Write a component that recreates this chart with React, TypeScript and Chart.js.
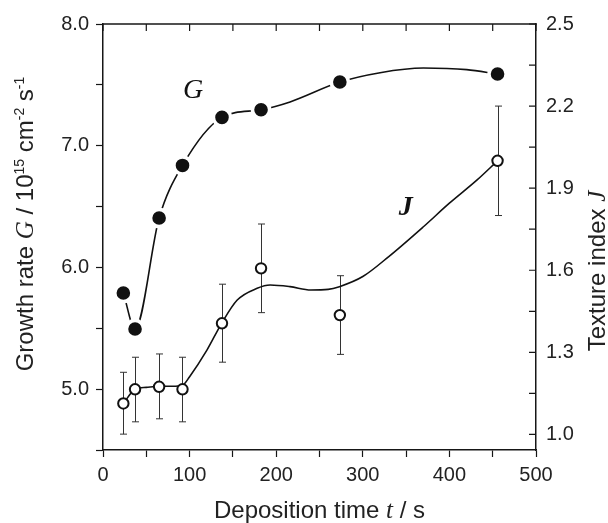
import React, { useEffect, useRef } from 'react';
import { Chart, registerables } from 'chart.js';

Chart.register(...registerables);

// ---- data ----
const TIME = [23.5, 37, 64.8, 91.8, 137.4, 182.5, 273.5, 455.6];
const G_RATE = [5.79, 5.494, 6.406, 6.838, 7.233, 7.296, 7.523, 7.589];
const J_INDEX = [1.113, 1.165, 1.174, 1.165, 1.406, 1.607, 1.436, 2.0];
const J_ERR_HIGH = [1.227, 1.282, 1.294, 1.282, 1.549, 1.769, 1.58, 2.2];
const J_ERR_LOW = [1.001, 1.046, 1.057, 1.046, 1.264, 1.445, 1.2925, 1.8];

// fitted guide curves (sampled along the drawn lines)
const G_FIT_T = [23.5, 37, 64.8, 91.8, 137.4, 182.5, 216, 273.5, 320, 370, 420, 455.6];
const G_FIT_V = [5.79, 5.494, 6.406, 6.838, 7.233, 7.296, 7.36, 7.523, 7.6, 7.638, 7.625, 7.589];
const J_FIT_T = [23.5, 37, 50, 65, 80, 92, 100, 120, 137, 155, 178, 193, 216, 240, 260, 273, 300, 330, 370, 400, 432, 455.6];
const J_FIT_V = [1.113, 1.165, 1.172, 1.176, 1.176, 1.18, 1.211, 1.308, 1.406, 1.491, 1.534, 1.546, 1.54, 1.528, 1.53, 1.54, 1.577, 1.65, 1.759, 1.845, 1.93, 2.0];

// axes
const X_TICKS = [0, 50, 100, 150, 200, 250, 300, 350, 400, 450, 500];
const X_LABELS = [0, 100, 200, 300, 400, 500];
const G_TICKS = [4.5, 5.0, 5.5, 6.0, 6.5, 7.0, 7.5, 8.0];
const G_LABELS = [5.0, 6.0, 7.0, 8.0];
const J_TICKS = [1.0, 1.15, 1.3, 1.45, 1.6, 1.75, 1.9, 2.05, 2.2, 2.35, 2.5];
const J_LABELS = [1.0, 1.3, 1.6, 1.9, 2.2, 2.5];

// in-plot labels (data coordinates)
const G_LABEL_POS = { x: 104, y: 7.45 };
const J_LABEL_POS = { x: 349.5, y: 1.828 };

const INK = '#161616';
const SANS = "'Liberation Sans', Arial, sans-serif";
const SERIF = "'Liberation Serif', 'Times New Roman', serif";

const has = (arr: number[], v: number) => arr.some((a) => Math.abs(a - v) < 1e-6);

type Seg = { t: string; font: string; dy?: number };

function drawRich(ctx: CanvasRenderingContext2D, segs: Seg[], cx: number, cy: number, rot: number) {
  ctx.save();
  ctx.translate(cx, cy);
  ctx.rotate(rot);
  ctx.textBaseline = 'alphabetic';
  ctx.textAlign = 'left';
  ctx.fillStyle = '#222';
  let total = 0;
  for (const s of segs) {
    ctx.font = s.font;
    total += ctx.measureText(s.t).width;
  }
  let x = -total / 2;
  for (const s of segs) {
    ctx.font = s.font;
    ctx.fillText(s.t, x, s.dy || 0);
    x += ctx.measureText(s.t).width;
  }
  ctx.restore();
}

const decorPlugin = {
  id: 'decor',
  beforeDatasetsDraw(chart: any) {
    const ctx = chart.ctx as CanvasRenderingContext2D;
    const xs = chart.scales.x;
    const ys = chart.scales.y1;
    ctx.save();
    ctx.strokeStyle = '#333';
    ctx.lineWidth = 1;
    for (let i = 0; i < TIME.length; i++) {
      const px = Math.round(xs.getPixelForValue(TIME[i])) + 0.5;
      const top = ys.getPixelForValue(J_ERR_HIGH[i]);
      const bot = ys.getPixelForValue(J_ERR_LOW[i]);
      ctx.beginPath();
      ctx.moveTo(px, top);
      ctx.lineTo(px, bot);
      ctx.moveTo(px - 3.5, top);
      ctx.lineTo(px + 3.5, top);
      ctx.moveTo(px - 3.5, bot);
      ctx.lineTo(px + 3.5, bot);
      ctx.stroke();
    }
    ctx.restore();
  },
  afterDraw(chart: any) {
    const ctx = chart.ctx as CanvasRenderingContext2D;
    const a = chart.chartArea;
    const xs = chart.scales.x;
    const ys = chart.scales.y1;
    const yg = chart.scales.y;
    ctx.save();
    ctx.strokeStyle = INK;
    ctx.lineWidth = 1.5;
    // top frame line
    ctx.beginPath();
    ctx.moveTo(a.left - 0.75, a.top);
    ctx.lineTo(a.right + 0.75, a.top);
    ctx.stroke();
    // inward ticks on top and right
    ctx.lineWidth = 1.2;
    ctx.beginPath();
    for (const t of X_TICKS) {
      const px = xs.getPixelForValue(t);
      ctx.moveTo(px, a.top);
      ctx.lineTo(px, a.top + 7);
    }
    for (const t of J_TICKS) {
      const py = ys.getPixelForValue(t);
      ctx.moveTo(a.right, py);
      ctx.lineTo(a.right - 7, py);
    }
    ctx.stroke();
    ctx.restore();

    // in-plot labels
    ctx.save();
    ctx.fillStyle = '#111';
    ctx.textAlign = 'center';
    ctx.textBaseline = 'middle';
    ctx.font = `italic 28px ${SERIF}`;
    ctx.fillText('G', xs.getPixelForValue(G_LABEL_POS.x), yg.getPixelForValue(G_LABEL_POS.y));
    ctx.font = `italic bold 28px ${SERIF}`;
    ctx.fillText('J', xs.getPixelForValue(J_LABEL_POS.x), ys.getPixelForValue(J_LABEL_POS.y));
    ctx.restore();

    // axis titles
    const F = `24px ${SANS}`;
    const FI = `italic 25px ${SERIF}`;
    const FS = `14px ${SANS}`;
    drawRich(
      ctx,
      [
        { t: 'Growth rate ', font: F },
        { t: 'G', font: FI },
        { t: ' / 10', font: F },
        { t: '15', font: FS, dy: -9 },
        { t: ' cm', font: F },
        { t: '-2', font: FS, dy: -9 },
        { t: ' s', font: F },
        { t: '-1', font: FS, dy: -9 },
      ],
      33,
      224,
      -Math.PI / 2
    );
    drawRich(
      ctx,
      [
        { t: 'Texture index ', font: F },
        { t: 'J', font: FI },
      ],
      605,
      271,
      -Math.PI / 2
    );
    drawRich(
      ctx,
      [
        { t: 'Deposition time ', font: F },
        { t: 't', font: FI },
        { t: ' / s', font: F },
      ],
      (a.left + a.right) / 2,
      518,
      0
    );
  },
};

export default function App() {
  const ref = useRef<HTMLCanvasElement | null>(null);
  useEffect(() => {
    if (!ref.current) return;
    const tickFont = { family: SANS, size: 20 };
    const chart = new Chart(ref.current, {
      type: 'scatter',
      data: {
        datasets: [
          {
            label: 'G points',
            data: TIME.map((t, i) => ({ x: t, y: G_RATE[i] })),
            yAxisID: 'y',
            showLine: false,
            pointRadius: 8.6,
            pointBackgroundColor: '#111',
            pointBorderColor: '#ffffff',
            pointBorderWidth: 3.6,
            order: 0,
          },
          {
            label: 'J points',
            data: TIME.map((t, i) => ({ x: t, y: J_INDEX[i] })),
            yAxisID: 'y1',
            showLine: false,
            pointRadius: 5.2,
            pointBackgroundColor: '#ffffff',
            pointBorderColor: '#111',
            pointBorderWidth: 2,
            order: 1,
          },
          {
            label: 'G fit',
            data: G_FIT_T.map((t, i) => ({ x: t, y: G_FIT_V[i] })),
            yAxisID: 'y',
            showLine: true,
            borderColor: '#111',
            borderWidth: 1.6,
            pointRadius: 0,
            cubicInterpolationMode: 'monotone',
            order: 2,
          },
          {
            label: 'J fit',
            data: J_FIT_T.map((t, i) => ({ x: t, y: J_FIT_V[i] })),
            yAxisID: 'y1',
            showLine: true,
            borderColor: '#111',
            borderWidth: 1.6,
            pointRadius: 0,
            cubicInterpolationMode: 'monotone',
            order: 3,
          },
        ],
      },
      options: {
        responsive: false,
        animation: false,
        events: [],
        layout: { padding: { top: 24, left: 0, right: 0, bottom: 0 } },
        plugins: { legend: { display: false }, tooltip: { enabled: false } },
        scales: {
          x: {
            type: 'linear',
            position: 'bottom',
            min: 0,
            max: 500,
            afterBuildTicks: (s: any) => {
              s.ticks = X_TICKS.map((v) => ({ value: v }));
            },
            afterFit: (s: any) => {
              s.height = 73;
            },
            ticks: {
              autoSkip: false,
              maxRotation: 0,
              font: tickFont,
              color: '#222',
              padding: 6,
              callback: (v: any) => (has(X_LABELS, Number(v)) ? String(v) : ''),
            },
            grid: { drawOnChartArea: false, drawTicks: true, tickLength: 7, tickColor: INK, tickWidth: 1.2 },
            border: { display: true, color: INK, width: 1.5 },
          },
          y: {
            type: 'linear',
            position: 'left',
            min: 4.5,
            max: 8.0,
            afterBuildTicks: (s: any) => {
              s.ticks = G_TICKS.map((v) => ({ value: v }));
            },
            afterFit: (s: any) => {
              s.width = 103;
            },
            ticks: {
              autoSkip: false,
              font: tickFont,
              color: '#222',
              padding: 7,
              callback: (v: any) => (has(G_LABELS, Number(v)) ? Number(v).toFixed(1) : ''),
            },
            grid: { drawOnChartArea: false, drawTicks: true, tickLength: 7, tickColor: INK, tickWidth: 1.2 },
            border: { display: true, color: INK, width: 1.5 },
          },
          y1: {
            type: 'linear',
            position: 'right',
            min: 0.943,
            max: 2.5,
            afterBuildTicks: (s: any) => {
              s.ticks = J_TICKS.map((v) => ({ value: v }));
            },
            afterFit: (s: any) => {
              s.width = 72;
            },
            ticks: {
              autoSkip: false,
              font: tickFont,
              color: '#222',
              padding: 10,
              callback: (v: any) => (has(J_LABELS, Number(v)) ? Number(v).toFixed(1) : ''),
            },
            grid: { drawOnChartArea: false, drawTicks: false },
            border: { display: true, color: INK, width: 1.5 },
          },
        },
      } as any,
      plugins: [decorPlugin],
    });
    return () => chart.destroy();
  }, []);

  return (
    <div style={{ position: 'fixed', left: 0, top: 0, width: 608, height: 523, background: '#fff' }}>
      <canvas ref={ref} width={608} height={523} style={{ display: 'block' }} />
    </div>
  );
}
